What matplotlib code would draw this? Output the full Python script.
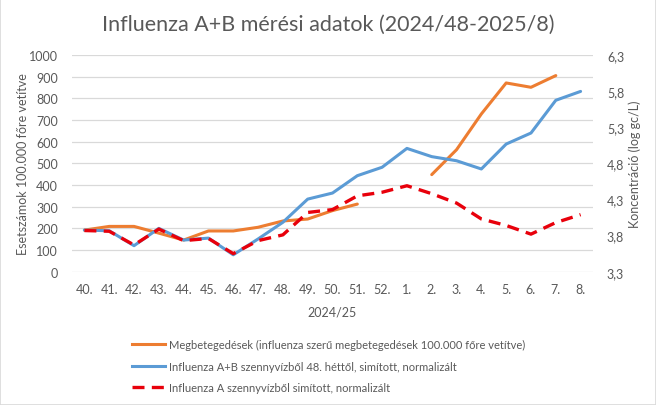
import numpy as np
import matplotlib
matplotlib.use("Agg")
import matplotlib.pyplot as plt
from matplotlib.patches import Rectangle

plt.rcParams['font.family'] = ['Lato', 'DejaVu Sans']

# weeks of the 2024/25 season
weeks = ['40.', '41.', '42.', '43.', '44.', '45.', '46.', '47.', '48.', '49.', '50.',
         '51.', '52.', '1.', '2.', '3.', '4.', '5.', '6.', '7.', '8.']

# cases per 100 000 (gap at 52./1.)
cases = [192, 209, 209, 178, 146, 188, 188, 205, 234, 243, 282,
         312, np.nan, np.nan, 448, 563, 728, 871, 851, 905, np.nan]

# influenza A+B from waste water, smoothed, normalised (left axis)
ab_ww = [192, 189, 120, 200, 146, 155, 78, 151, 228, 335, 363,
         443, 482, 569, 531, 512, 474, 589, 640, 791, 832]

# influenza A from waste water, log gc/L (right axis)
a_ww = [3.87, 3.86, 3.67, 3.89, 3.73, 3.76, 3.55, 3.73, 3.81, 4.12, 4.16,
        4.35, 4.40, 4.49, 4.38, 4.25, 4.03, 3.94, 3.82, 3.98, 4.09]

left_ticks = list(range(0, 1001, 100))
right_ticks = [3.3, 3.8, 4.3, 4.8, 5.3, 5.8, 6.3]

gray = '#595959'
x = np.arange(len(weeks))

fig = plt.figure(figsize=(6.56, 4.06), dpi=100)
ax = fig.add_axes([72/656, 1-272.7/406, (593-72)/656, (272.7-56)/406])
ax2 = ax.twinx()

ax.plot(x, cases, color='#ED7D31', lw=2.2, solid_capstyle='round', zorder=3)
ax.plot(x, ab_ww, color='#5B9BD5', lw=2.2, solid_capstyle='round', zorder=3)
ax2.plot(x, a_ww, color='#E8000B', lw=2.4, ls=(0, (3.6, 2.2)), zorder=3)

ax.set_xlim(-0.5, len(weeks) - 0.5)
ax.set_ylim(0, 1000)
ax.set_yticks(left_ticks)
ax2.set_ylim(3.3, 6.3)
ax2.set_yticks(right_ticks)
ax2.set_yticklabels([f'{t:.1f}'.replace('.', ',') for t in right_ticks])
ax.set_xticks(x)
ax.set_xticklabels(weeks)

ax.grid(axis='y', color='#D9D9D9', lw=0.9)
ax.set_axisbelow(True)
for a in (ax, ax2):
    for s in a.spines.values():
        s.set_visible(False)
    a.tick_params(length=0, labelsize=9, labelcolor=gray)
ax.tick_params(axis='y', pad=10)
ax.tick_params(axis='x', pad=8)
ax2.tick_params(axis='y', pad=10)

ax.set_ylabel('Esetszámok 100.000 főre vetítve', fontsize=9, color=gray, labelpad=0)
ax2.set_ylabel('Koncentráció (log gc/L)', fontsize=9, color=gray, rotation=90, labelpad=3)
ax.set_xlabel('2024/25', fontsize=9, color=gray, labelpad=8)

fig.text(0.5, 1-25/406, 'Influenza A+B mérési adatok (2024/48-2025/8)',
         ha='center', va='center', fontsize=15.5, color=gray)

h1, = ax.plot([], [], color='#ED7D31', lw=2.2)
h2, = ax.plot([], [], color='#5B9BD5', lw=2.2)
h3, = ax.plot([], [], color='#E8000B', lw=2.4, ls=(0, (3.6, 2.2)))
fig.legend([h1, h2, h3],
           ['Megbetegedések (influenza szerű megbetegedések 100.000 főre vetítve)',
            'Influenza A+B szennyvízből 48. héttől, simított, normalizált',
            'Influenza A szennyvízből simított, normalizált'],
           loc='upper left', bbox_to_anchor=(122/656, 1-330/406), frameon=False,
           fontsize=8, labelcolor=gray, handlelength=3.0, handletextpad=0.3,
           labelspacing=0.95)

fig.patches.append(Rectangle((0, 0), 1, 1, transform=fig.transFigure, fill=False,
                             edgecolor='#D9D9D9', lw=1.2))

fig.savefig('out.png', dpi=100)
